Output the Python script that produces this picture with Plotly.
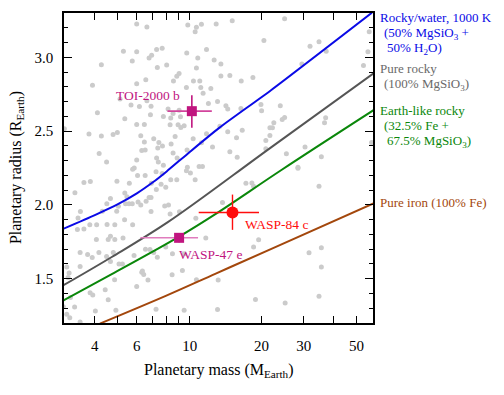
import math
import plotly.graph_objects as go

# ---------------- data ----------------
# Background planets (mass in Earth masses, radius in Earth radii)
bg_mass = [5.99, 6.61, 5.27, 5.99, 5.74, 6.75, 6.92, 7.26, 7.66, 4.26, 7.31, 8.0, 3.91, 5.99, 6.54,
           4.10, 5.10, 5.67, 6.15, 6.61, 6.88, 5.34, 6.84, 7.75, 5.99, 6.45, 2.98, 3.78, 4.26, 4.77,
           4.97, 6.23, 6.45, 7.06, 7.42, 7.68, 7.34, 6.29, 6.50, 4.17, 4.48, 5.99, 7.26, 7.38, 7.75,
           5.85,
           9.81, 10.66, 11.19, 12.90, 15.06, 10.53, 20.45, 11.75, 9.71, 10.80, 12.65, 13.50, 10.66,
           9.02, 8.82, 8.54, 10.36, 11.01, 13.50, 14.72, 16.43, 18.39, 9.68, 11.12, 12.25, 11.37,
           11.97, 13.07, 14.17, 14.42, 19.87, 20.0, 16.38, 8.11, 8.51, 9.02, 8.32, 9.14, 8.93, 9.17,
           9.47, 8.27, 13.37, 14.42, 16.59, 21.67, 8.68, 10.33, 11.75, 15.70, 11.19, 12.45, 8.35,
           8.51, 9.74, 14.72, 15.80, 20.83, 20.83, 8.85, 10.94, 11.30, 9.77,
           24.97, 56.5, 31.91, 34.8, 37.3, 55.8, 53.45, 29.5, 23.95, 22.5, 22.2, 24.4, 24.97, 21.67,
           37.1, 36.7, 30.4, 25.4, 35.6, 28.4, 57.8,
           5.76, 6.04, 6.50, 7.22, 7.66, 3.60, 3.83, 4.95, 5.58, 6.90, 7.58, 3.30, 5.34, 7.24, 4.65,
           5.45, 6.75, 6.88, 4.49, 5.02, 5.38, 5.56, 5.74, 6.07, 6.23, 6.56, 7.85, 3.48, 4.30, 4.94,
           6.88, 3.40, 5.33, 3.38, 3.60, 3.81, 4.07, 4.50, 4.85, 5.76, 4.06, 4.55, 4.65, 4.85, 5.25,
           3.47, 3.73, 3.90, 4.16, 4.48, 4.78, 5.84, 6.52, 6.81, 7.06, 7.31, 4.65, 5.05, 5.22, 3.05,
           3.47, 3.12, 3.09, 6.29, 6.41, 6.33, 6.68, 4.84, 4.42, 5.99, 3.16, 3.82, 3.92, 4.55, 2.95,
           3.29, 4.02, 4.90, 7.22, 3.05, 3.14, 3.47,
           9.68, 10.06, 8.32, 8.82, 10.53, 17.19, 18.21, 18.51, 7.93, 8.14, 13.71, 9.05, 8.27, 10.6,
           11.67, 19.43, 18.51, 7.93, 8.46, 9.47, 8.43, 9.31, 10.66, 13.15, 18.85, 9.47, 13.07,
           28.4, 34.8, 31.6, 35.6, 35.6, 34.8, 25.1]
bg_radius = [3.225, 3.205, 3.041, 3.038, 2.975, 2.995, 3.014, 3.052, 3.061, 2.950, 2.930, 2.948, 2.811,
             2.820, 2.847, 2.624, 2.718, 2.676, 2.667, 2.705, 2.669, 2.583, 2.610, 2.599, 2.545, 2.545,
             2.516, 2.480, 2.466, 2.477, 2.491, 2.468, 2.426, 2.448, 2.423, 2.399, 2.385, 2.369, 2.372,
             2.349, 2.291, 2.304, 2.318, 2.291, 2.268, 2.250,
             3.218, 3.203, 3.223, 3.225, 3.248, 3.173, 3.113, 3.052, 3.029, 2.995, 2.982, 2.955, 2.928,
             2.890, 2.872, 2.840, 2.840, 2.840, 2.874, 2.876, 2.840, 2.863, 2.795, 2.795, 2.788, 2.757,
             2.687, 2.700, 2.671, 2.649, 2.680, 2.637, 2.653, 2.649, 2.619, 2.642, 2.588, 2.597, 2.543,
             2.525, 2.536, 2.543, 2.532, 2.495, 2.505, 2.523, 2.464, 2.448, 2.482, 2.455, 2.421, 2.392,
             2.412, 2.351, 2.372, 2.360, 2.322, 2.437, 2.381, 2.318, 2.261, 2.261, 2.255,
             3.261, 3.173, 3.074, 3.106, 3.041, 3.038, 2.944, 2.955, 2.671, 2.556, 2.523, 2.579, 2.592,
             2.471, 2.590, 2.556, 2.392, 2.347, 2.327, 2.255, 2.423,
             2.241, 2.200, 2.200, 2.225, 2.212, 2.151, 2.158, 2.160, 2.146, 2.146, 2.140, 2.083, 2.081,
             2.104, 2.043, 2.056, 2.050, 2.050, 2.007, 1.991, 2.007, 2.007, 2.007, 2.020, 2.000, 2.025,
             1.993, 1.955, 1.957, 1.957, 1.955, 1.912, 1.899, 1.833, 1.836, 1.865, 1.865, 1.867, 1.865,
             1.865, 1.766, 1.766, 1.788, 1.766, 1.775, 1.678, 1.664, 1.644, 1.678, 1.651, 1.678, 1.658,
             1.700, 1.698, 1.678, 1.646, 1.617, 1.599, 1.599, 1.579, 1.583, 1.538, 1.509, 1.543, 1.529,
             1.552, 1.491, 1.493, 1.426, 1.448, 1.372, 1.405, 1.390, 1.358, 1.311, 1.309, 1.282, 1.286,
             1.293, 1.259, 1.236, 1.207,
             2.232, 2.216, 2.171, 2.171, 2.171, 2.146, 2.149, 2.126, 2.119, 2.000, 2.016, 1.953, 1.939,
             1.910, 1.775, 1.764, 1.714, 1.714, 1.669, 1.669, 1.527, 1.556, 1.493, 1.491, 1.360, 1.286,
             1.291,
             2.248, 2.126, 1.676, 1.709, 1.579, 1.381, 1.336]

# Composition curves
water_mass = [2.9, 4.0, 5.0, 6.0, 7.0, 8.0, 10.0, 13.28, 21.9, 58.0]
water_radius = [1.833, 1.931, 2.005, 2.078, 2.153, 2.227, 2.359, 2.522, 2.777, 3.302]
rocky_mass = [2.9, 4.71, 8.09, 21.7, 60.0]
rocky_radius = [1.448, 1.647, 1.883, 2.385, 2.900]
earth_mass = [2.9, 4.71, 9.02, 12.85, 24.3, 60.0]
earth_radius = [1.346, 1.531, 1.785, 1.939, 2.238, 2.650]
iron_mass = [4.2, 7.93, 12.85, 22.1, 60.0]
iron_radius = [1.196, 1.384, 1.535, 1.704, 2.016]

# Highlighted planets
toi_mass, toi_mplus, toi_mminus = [10.2], [2.17], [2.14]
toi_radius, toi_rplus, toi_rminus = [2.635], [0.108], [0.112]
w47_mass, w47_mplus, w47_mminus = [9.02], [1.81], [2.81]
w47_radius, w47_rplus, w47_rminus = [1.777], [0.03], [0.03]
w84_mass, w84_mplus, w84_mminus = [15.1], [4.4], [4.2]
w84_radius, w84_rplus, w84_rminus = [1.949], [0.121], [0.118]

x_tickvals = [4, 5, 6, 7, 8, 9, 10, 20, 30, 40, 50]
x_ticktext = ["4", "", "6", "", "", "", "10", "20", "30", "", "50"]
y_tickvals = [1.5, 2.0, 2.5, 3.0]

# ---------------- figure ----------------
FONT = "Liberation Serif, Times New Roman, Times, DejaVu Serif, serif"
BLUE = "#0a0ae6"
GRAY = "#555555"
GREEN = "#0a870a"
BROWN = "#a3470c"
MAGENTA = "#c0157f"
RED = "#ff0d0d"

fig = go.Figure()
fig.add_trace(go.Scatter(x=bg_mass, y=bg_radius, mode="markers",
                         marker=dict(size=5, color="#cbcbcb"), hoverinfo="skip"))
for xm, yr, col, sm in [(water_mass, water_radius, BLUE, 0.6), (rocky_mass, rocky_radius, GRAY, 1.0),
                        (earth_mass, earth_radius, GREEN, 1.0), (iron_mass, iron_radius, BROWN, 1.0)]:
    fig.add_trace(go.Scatter(x=xm, y=yr, mode="lines",
                             line=dict(color=col, width=2, shape="spline", smoothing=sm)))

fig.add_trace(go.Scatter(
    x=toi_mass, y=toi_radius, mode="markers",
    marker=dict(symbol="square", size=10, color=MAGENTA),
    error_x=dict(type="data", array=toi_mplus, arrayminus=toi_mminus, color="#d2449c", thickness=1.6, width=0),
    error_y=dict(type="data", array=toi_rplus, arrayminus=toi_rminus, color=MAGENTA, thickness=1.6, width=0)))
fig.add_trace(go.Scatter(
    x=w47_mass, y=w47_radius, mode="markers",
    marker=dict(symbol="square", size=10, color=MAGENTA),
    error_x=dict(type="data", array=w47_mplus, arrayminus=w47_mminus, color="#e07cbd", thickness=1.6, width=0),
    error_y=dict(type="data", array=w47_rplus, arrayminus=w47_rminus, color=MAGENTA, thickness=1.6, width=0)))
fig.add_trace(go.Scatter(
    x=w84_mass, y=w84_radius, mode="markers",
    marker=dict(symbol="circle", size=12, color=RED),
    error_x=dict(type="data", array=w84_mplus, arrayminus=w84_mminus, color=RED, thickness=1.4, width=0),
    error_y=dict(type="data", array=w84_rplus, arrayminus=w84_rminus, color=RED, thickness=1.4, width=0)))

ann = []
# point labels (log axis: x given in log10)
for txt, mx, ry, col in [("TOI-2000 b", 6.66, 2.741, MAGENTA), ("WASP-84 c", 16.64, 1.868, RED),
                         ("WASP-47 e", 8.88, 1.667, MAGENTA)]:
    xanchor = "center" if txt.startswith("TOI") else "left"
    ann.append(dict(x=math.log10(mx), y=ry, xref="x", yref="y", text=txt, showarrow=False,
                    xanchor=xanchor, yanchor="middle", font=dict(family=FONT, size=13.5, color=col)))

# right-hand composition labels
right_labels = [
    ("Rocky/water, 1000 K", 0.987, 5, BLUE),
    ("(50% MgSiO<sub>3</sub> +", 0.935, 9, BLUE),
    ("50% H<sub>2</sub>O)", 0.885, 12, BLUE),
    ("Pure rocky", 0.820, 5, "#6a6a6a"),
    ("(100% MgSiO<sub>3</sub>)", 0.768, 9, "#6a6a6a"),
    ("Earth-like rocky", 0.686, 5, GREEN),
    ("(32.5% Fe +", 0.636, 9, GREEN),
    ("67.5% MgSiO<sub>3</sub>)", 0.584, 12, GREEN),
    ("Pure iron (100% Fe)", 0.390, 5, BROWN),
]
for txt, yp, xs, col in right_labels:
    ann.append(dict(x=1.0, y=yp, xref="paper", yref="paper", text=txt, showarrow=False,
                    xanchor="left", yanchor="middle", xshift=xs,
                    font=dict(family=FONT, size=13, color=col)))

# axis titles
ann.append(dict(x=0.5, y=-0.153, xref="paper", yref="paper", yanchor="middle", xanchor="center",
                text="Planetary mass (M<sub>Earth</sub>)", showarrow=False,
                font=dict(family=FONT, size=16, color="black")))
ann.append(dict(x=-0.155, y=0.5, xref="paper", yref="paper", yanchor="middle", xanchor="center",
                text="Planetary radius (R<sub>Earth</sub>)", showarrow=False, textangle=-90,
                font=dict(family=FONT, size=16, color="black")))

fig.update_layout(
    width=504, height=395,
    margin=dict(l=64, r=131, t=13, b=72),
    paper_bgcolor="white", plot_bgcolor="white",
    showlegend=False,
    font=dict(family=FONT, size=15, color="black"),
    annotations=ann,
)
fig.update_xaxes(type="log", range=[math.log10(2.97), math.log10(58.6)],
                 tickvals=x_tickvals, ticktext=x_ticktext,
                 ticks="inside", ticklen=7, tickwidth=1.3, tickcolor="black",
                 showline=True, linewidth=1.5, linecolor="black", mirror="ticks",
                 showgrid=False, zeroline=False, ticklabelstandoff=8,
                 tickfont=dict(family=FONT, size=15, color="black"))
fig.update_yaxes(range=[1.2, 3.3], tickvals=y_tickvals, tickformat=".1f",
                 ticks="inside", ticklen=8, tickwidth=1.3, tickcolor="black",
                 minor=dict(dtick=0.1, ticks="inside", ticklen=4, tickwidth=1.2, tickcolor="black", showgrid=False),
                 showline=True, linewidth=1.5, linecolor="black", mirror="ticks",
                 showgrid=False, zeroline=False, ticklabelstandoff=6,
                 tickfont=dict(family=FONT, size=15, color="black"))

fig.write_html("out.html", config={"displayModeBar": False},
               post_script="document.body.style.margin='0px';")
